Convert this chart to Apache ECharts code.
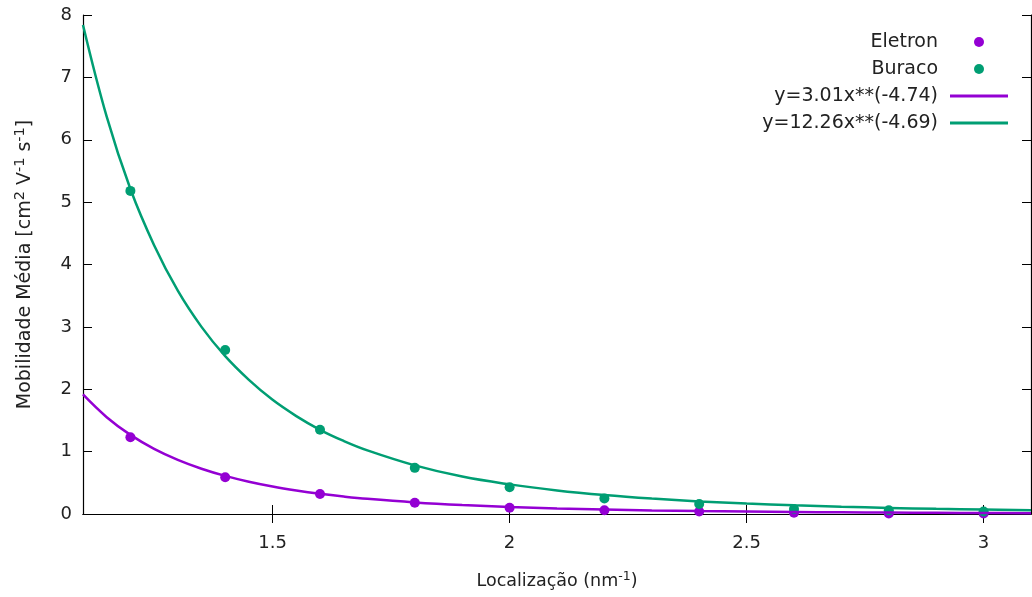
<!DOCTYPE html>
<html>
<head>
<meta charset="utf-8">
<script src="https://cdn.jsdelivr.net/npm/echarts@6/dist/echarts.min.js"></script>
<style>html,body{margin:0;padding:0;background:#fff}#c{width:1032px;height:597px}</style>
</head>
<body>
<div id="c"></div>
<script>
// Measured points
const xPoints = [1.2, 1.4, 1.6, 1.8, 2.0, 2.2, 2.4, 2.6, 2.8, 3.0];
const eletron = [1.23, 0.59, 0.32, 0.18, 0.10, 0.06, 0.04, 0.02, 0.01, 0.01];
const buraco  = [5.18, 2.63, 1.35, 0.74, 0.43, 0.25, 0.16, 0.08, 0.06, 0.04];
// Fitted curves
const xCurve = [1.1, 1.15, 1.2, 1.25, 1.3, 1.35, 1.4, 1.45, 1.5, 1.55, 1.6, 1.65, 1.7, 1.8, 1.9, 2.0, 2.1, 2.2, 2.3, 2.4, 2.5, 2.6, 2.7, 2.8, 2.9, 3.0, 3.1];
const fitEletron = [1.916, 1.552, 1.268, 1.045, 0.868, 0.726, 0.611, 0.517, 0.440, 0.377, 0.324, 0.280, 0.243, 0.186, 0.144, 0.113, 0.089, 0.072, 0.058, 0.047, 0.039, 0.032, 0.027, 0.023, 0.019, 0.016, 0.014];
const fitBuraco  = [7.84, 6.37, 5.21, 4.31, 3.58, 3.00, 2.53, 2.15, 1.83, 1.57, 1.35, 1.171, 1.02, 0.78, 0.60, 0.475, 0.378, 0.304, 0.247, 0.202, 0.167, 0.139, 0.116, 0.098, 0.083, 0.071, 0.061];
const xTicks = [1.5, 2, 2.5, 3];
const names = ['Eletron', 'Buraco', 'y=3.01x**(-4.74)', 'y=12.26x**(-4.69)'];

const PURPLE = '#9400d3', GREEN = '#009e73';
const FONT = 'DejaVu Sans';
const TXT = '#222';
const zip = (xs, ys) => xs.map((x, i) => [x, ys[i]]);

const chart = echarts.init(document.getElementById('c'));
const baseX = {
  type: 'value', min: 1.1, max: 3.1,
  axisLine: {show: true, lineStyle: {color: '#000', width: 1.2}},
  splitLine: {show: false},
  axisTick: {show: true, inside: true, length: 9, customValues: xTicks, lineStyle: {color: '#000'}},
};
const baseY = {
  type: 'value', min: 0, max: 8, interval: 1,
  axisLine: {show: true, lineStyle: {color: '#000', width: 1.2}},
  splitLine: {show: false},
  axisTick: {show: true, inside: true, length: 9, lineStyle: {color: '#000'}},
};
const xRich = {
  sup: {fontFamily: FONT, fontSize: 12.5, color: TXT, verticalAlign: 'top', lineHeight: 14, padding: [0, 0, 7, 0]},
  n: {fontFamily: FONT, fontSize: 17.5, color: TXT, lineHeight: 22}
};
const yRich = {
  sup: {fontFamily: FONT, fontSize: 14.5, color: TXT, verticalAlign: 'top', lineHeight: 14, padding: [0, 0, 8, 0]},
  n: {fontFamily: FONT, fontSize: 19, color: TXT, lineHeight: 24}
};
chart.setOption({
  animation: false,
  backgroundColor: '#fff',
  textStyle: {fontFamily: FONT},
  grid: {left: 83, right: 1, top: 15, bottom: 83},
  xAxis: [
    Object.assign({}, baseX, {
      position: 'bottom',
      axisLabel: {show: true, customValues: xTicks, margin: 20, fontSize: 18, color: TXT, fontFamily: FONT},
      name: '{n|Localização (nm}{sup|-1}{n|)}',
      nameLocation: 'middle', nameGap: 56,
      nameTextStyle: {rich: xRich}
    }),
    Object.assign({}, baseX, {position: 'top', axisLabel: {show: false}})
  ],
  yAxis: [
    Object.assign({}, baseY, {
      position: 'left',
      axisLabel: {show: true, margin: 11, fontSize: 18, color: TXT, fontFamily: FONT},
      name: '{n|Mobilidade Média [cm}{sup|2}{n| V}{sup|-1}{n| s}{sup|-1}{n|]}',
      nameLocation: 'middle', nameGap: 46,
      nameTextStyle: {rich: yRich}
    }),
    Object.assign({}, baseY, {position: 'right', axisLabel: {show: false}})
  ],
  legend: [
    {
      data: [{name: names[0], icon: 'circle'}, {name: names[1], icon: 'circle'}],
      orient: 'vertical', align: 'right', right: 48, top: 32, padding: 0,
      itemWidth: 10, itemHeight: 10, itemGap: 7,
      textStyle: {fontFamily: FONT, fontSize: 19, color: TXT, lineHeight: 20, padding: [0, 31, 0, 0]}
    },
    {
      data: [{name: names[2], icon: 'rect'}, {name: names[3], icon: 'rect'}],
      orient: 'vertical', align: 'right', right: 24, top: 86, padding: 0,
      itemWidth: 58, itemHeight: 3, itemGap: 7,
      textStyle: {fontFamily: FONT, fontSize: 19, color: TXT, lineHeight: 20, padding: [0, 7, 0, 0]}
    }
  ],
  series: [
    {name: names[0], type: 'scatter', data: zip(xPoints, eletron), symbol: 'circle', symbolSize: 10, itemStyle: {color: PURPLE, opacity: 1}, clip: false, z: 2},
    {name: names[1], type: 'scatter', data: zip(xPoints, buraco), symbol: 'circle', symbolSize: 10, itemStyle: {color: GREEN, opacity: 1}, clip: false, z: 2},
    {name: names[2], type: 'line', data: zip(xCurve, fitEletron), smooth: 0.4, symbol: 'none', lineStyle: {color: PURPLE, width: 2.5}, itemStyle: {color: PURPLE}, z: 3},
    {name: names[3], type: 'line', data: zip(xCurve, fitBuraco), smooth: 0.4, symbol: 'none', lineStyle: {color: GREEN, width: 2.5}, itemStyle: {color: GREEN}, z: 4}
  ]
});
</script>
</body>
</html>
